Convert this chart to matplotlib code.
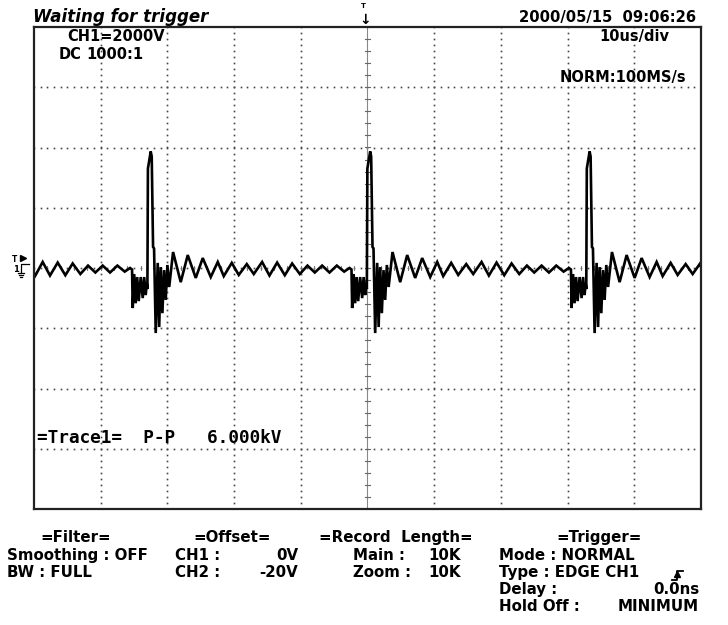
import numpy as np
import matplotlib
matplotlib.use("Agg")
import matplotlib.pyplot as plt
from matplotlib.lines import Line2D

# --- data (time in us, voltage in kV) ---
spike_times_us = [-33.0, -0.1, 32.8]

# one period of the waveform, time measured from the rising edge of the spike
pulse_offset_us = [-17.95, -16.8, -15.7, -14.6, -13.45, -12.3, -11.2, -10.05,
                   -8.9, -7.8, -6.7, -5.6, -4.5, -3.4, -2.6, -2.3,
                   -2.2, -1.98, -1.76, -1.53, -1.3, -1.0, -0.7, -0.48, -0.25, -0.1, 0.0,
                   0.08, 0.5, 0.65, 0.85, 1.0, 1.25,
                   1.55, 1.77, 2.0, 2.25, 2.5, 2.75, 3.0, 3.27, 3.85,
                   5.0, 6.05, 7.25, 8.3, 9.5, 10.55, 11.45, 12.65, 13.7, 14.9, 15.95, 17.0, 17.5]
pulse_kv = [0.20, -0.25, 0.20, -0.25, 0.18, -0.24, 0.15, -0.20,
            0.08, -0.15, 0.08, -0.15, 0.08, -0.12, 0.0, -0.05,
            -1.33, -0.2, -1.17, -0.3, -1.1, -0.3, -1.0, -0.3, -0.9, -0.5, -0.7,
            3.3, 3.87, 3.7, 0.7, 0.65, -2.16,
            0.17, -1.96, 0.03, -1.5, -0.07, -1.06, 0.1, -0.63, 0.53,
            -0.47, 0.43, -0.33, 0.33, -0.3, 0.2, -0.27, 0.17, -0.23, 0.13, -0.2, 0.13, -0.1]

header_left = "Waiting for trigger"
header_right = "2000/05/15  09:06:26"
ch_scale = "CH1=2000V"
ch_coupling = ("DC", "1000:1")
time_div = "10us/div"
sample_rate = "NORM:100MS/s"
measurement = "=Trace1=  P-P   6.000kV"

W, H = 728, 625
fig = plt.figure(figsize=(W / 100, H / 100), dpi=100)
fig.patch.set_facecolor("white")

L, R, T, B = 34, 701, 27, 509
ax = fig.add_axes([L / W, 1 - B / H, (R - L) / W, (B - T) / H])
ax.set_xlim(-50, 50)
ax.set_ylim(-8, 8)
ax.set_xticks([])
ax.set_yticks([])
for s in ax.spines.values():
    s.set_linewidth(1.6)
    s.set_color("#222222")

# dotted graticule, dots every 1/10 division
dot = dict(ls="none", marker="s", ms=1.2, color="#444444", mew=0)
vfine = np.arange(-8, 8.01, 0.2)
hfine = np.arange(-50, 50.01, 1.0)
for xg in np.arange(-40, 41, 10):
    if xg == 0:
        continue
    ax.plot(np.full_like(vfine, xg), vfine, **dot)
for yg in np.arange(-6, 7, 2):
    ax.plot(hfine, np.full_like(hfine, yg), **dot)

# center axes with minor ticks
ax.axvline(0, color="#888888", lw=0.8)
for yt in np.arange(-8, 8.01, 0.4):
    ax.plot([-0.35, 0.35], [yt, yt], color="#666666", lw=0.8)
for xt in np.arange(-50, 50.01, 2.0):
    ax.plot([xt, xt], [-0.08, 0.08], color="#777777", lw=0.7)

# build the trace from the period
tt, vv = [], []
for i, s in enumerate(spike_times_us):
    lo = -np.inf if i == 0 else (spike_times_us[i - 1] + s) / 2
    hi = np.inf if i == len(spike_times_us) - 1 else (spike_times_us[i + 1] + s) / 2
    for o, v in zip(pulse_offset_us, pulse_kv):
        if lo <= s + o < hi:
            tt.append(s + o)
            vv.append(v)
ax.plot(tt, vv, color="black", lw=1.9, solid_joinstyle="miter")


def ftxt(x, y, s, **kw):
    kw.setdefault("family", "DejaVu Sans")
    kw.setdefault("weight", "bold")
    kw.setdefault("size", 10.5)
    kw.setdefault("va", "baseline")
    fig.text(x / W, 1 - y / H, s, **kw)


def fline(xs, ys, **kw):
    fig.add_artist(Line2D([x / W for x in xs], [1 - y / H for y in ys],
                          transform=fig.transFigure, color="black", **kw))


def fmark(x, y, m, ms):
    fig.add_artist(Line2D([x / W], [1 - y / H], marker=m, ms=ms, color="black",
                          transform=fig.transFigure))


# header
ftxt(33, 22, header_left, style="italic", size=12)
ftxt(696, 22, header_right, ha="right", size=10.6)
ftxt(361, 8, "T", size=5)
ftxt(365, 24, "\u2193", ha="center", size=10)

# in-screen labels
ftxt(67, 41, ch_scale)
ftxt(82, 59, ch_coupling[0], ha="right")
ftxt(86, 59, ch_coupling[1])
ftxt(669, 41, time_div, ha="right")
ftxt(686, 82, sample_rate, ha="right")
ftxt(37, 443, measurement, family="DejaVu Sans Mono", size=12.8)

# channel / trigger markers on the left edge
ftxt(12, 262, "T", size=5.5)
fmark(23, 258, ">", 5)
ftxt(13, 272, "1", size=6)
fline([21, 21, 29], [272, 264, 264], lw=0.9)
fline([18, 24], [273, 273], lw=0.9)
fline([19, 23], [275, 275], lw=0.9)
fline([20, 22], [277, 277], lw=0.9)

# settings block under the screen
ftxt(76, 542, "=Filter=", ha="center", size=10.8)
ftxt(7, 560, "Smoothing : OFF", size=10.8)
ftxt(7, 577, "BW : FULL", size=10.8)

ftxt(232, 542, "=Offset=", ha="center", size=10.8)
ftxt(175, 560, "CH1 :", size=10.8)
ftxt(298, 560, "0V", ha="right", size=10.8)
ftxt(175, 577, "CH2 :", size=10.8)
ftxt(298, 577, "-20V", ha="right", size=10.8)

ftxt(319, 542, "=Record  Length=", size=10.8)
ftxt(353, 560, "Main :", size=10.8)
ftxt(461, 560, "10K", ha="right", size=10.8)
ftxt(353, 577, "Zoom :", size=10.8)
ftxt(461, 577, "10K", ha="right", size=10.8)

ftxt(599, 542, "=Trigger=", ha="center", size=10.8)
ftxt(499, 560, "Mode : NORMAL", size=10.8)
ftxt(499, 577, "Type : EDGE CH1", size=10.8)
ftxt(499, 594, "Delay :", size=10.8)
ftxt(699, 594, "0.0ns", ha="right", size=10.8)
ftxt(499, 611, "Hold Off :", size=10.8)
ftxt(699, 611, "MINIMUM", ha="right", size=10.8)

# rising-edge trigger symbol
fline([672, 677, 677, 683], [580, 580, 571, 571], lw=1.3)
fmark(677, 574, "^", 5)

fig.savefig("out.png", dpi=100, facecolor="white")
